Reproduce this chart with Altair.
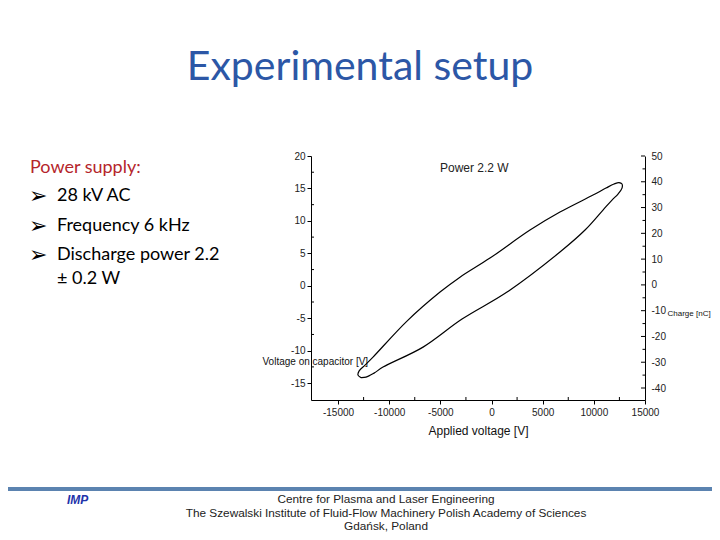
import altair as alt
import pandas as pd

# ---- data (closed loop, traced point by point) ----
voltage = [-12753, -13046, -12948, -12362, -11580, -8260, -5030, -3080, -150, 3760,
           6690, 9920, 11189, 11971, 12460, 12753, 12753, 12362, 11775, 10896,
           9140, 6690, 1520, -2880, -6690, -10603, -11482, -12264, -12753]
signal = [-14.15, -13.77, -13.15, -12.23, -10.99, -5.44, -0.97, 1.33, 4.27, 8.59,
          11.36, 13.98, 15.06, 15.68, 15.91, 15.68, 15.06, 14.14, 13.21, 11.67,
          8.59, 5.20, -0.97, -5.13, -9.45, -12.53, -13.46, -14.08, -14.15]

x_ticks = [-15000, -10000, -5000, 0, 5000, 10000, 15000]
x_minor = [-12500, -7500, -2500, 2500, 7500, 12500]
left_ticks = [-15, -10, -5, 0, 5, 10, 15, 20]
left_minor = [-12.5, -7.5, -2.5, 2.5, 7.5, 12.5, 17.5]
right_ticks = [-40, -30, -20, -10, 0, 10, 20, 30, 40, 50]
right_minor = [-35, -25, -15, -5, 5, 15, 25, 35, 45]

title_text = "Experimental setup"
supply_head = "Power supply:"
bullets = ["28 kV AC", "Frequency 6 kHz", "Discharge power 2.2"]
bullet_cont = "± 0.2 W"
chart_label = "Power 2.2 W"
x_title = "Applied voltage [V]"
left_title = "Voltage on capacitor [V]"
right_title = "Charge [nC]"
footer = ["Centre for Plasma and Laser Engineering",
          "The Szewalski Institute of Fluid-Flow Machinery Polish Academy of  Sciences",
          "Gdańsk, Poland"]

W, H = 334, 244
XDOM = [-17640, 15000]
LDOM = [-17.6, 20]
RDOM = [-44.65, 50]

df = pd.DataFrame({"v": voltage, "u": signal, "i": list(range(len(voltage)))})

xscale = alt.Scale(domain=XDOM, nice=False, zero=False)
lscale = alt.Scale(domain=LDOM, nice=False, zero=False)
rscale = alt.Scale(domain=RDOM, nice=False, zero=False)

axis_common = dict(grid=False, domainColor="black", tickColor="black", labelColor="#222",
                   labelFont="Liberation Sans", labelFontSize=10, titleFont="Liberation Sans",
                   titleFontWeight="normal", titleColor="#111", labelFlush=False)

x_axis = alt.Axis(values=x_ticks, title=x_title, titleFontSize=12, tickSize=4,
                  labelPadding=3, titlePadding=8, labelExpr="toString(datum.value)",
                  **axis_common)

curve = alt.Chart(df).mark_line(color="black", strokeWidth=1.2, interpolate="catmull-rom").encode(
    x=alt.X("v:Q", scale=xscale, axis=x_axis),
    y=alt.Y("u:Q", scale=lscale,
            axis=alt.Axis(values=left_ticks, title=left_title, titleAngle=0, titleX=-49, titleY=205,
                          titleAlign="left", titleBaseline="middle", titleFontSize=10,
                          tickSize=4, labelPadding=2, labelExpr="toString(datum.value)",
                          **axis_common)),
    order="i:Q",
)

lminor = alt.Chart(pd.DataFrame({"u": left_minor})).mark_rule(color="black").encode(
    y=alt.Y("u:Q", scale=lscale, axis=None), x=alt.value(0), x2=alt.value(3))

xminor = alt.Chart(pd.DataFrame({"v": x_minor})).mark_rule(color="black").encode(
    x=alt.X("v:Q", scale=xscale, axis=x_axis), y=alt.value(H), y2=alt.value(H - 3))

rmajor = alt.Chart(pd.DataFrame({"r": right_ticks})).mark_rule(color="black").encode(
    y=alt.Y("r:Q", scale=rscale,
            axis=alt.Axis(orient="right", values=right_ticks, tickSize=0, labelPadding=6,
                          title=right_title, titleAngle=0, titleX=22, titleY=157,
                          titleAlign="left", titleBaseline="middle", titleFontSize=8,
                          labelExpr="toString(datum.value)", **axis_common)),
    x=alt.value(W - 4), x2=alt.value(W))

rminor = alt.Chart(pd.DataFrame({"r": right_minor})).mark_rule(color="black").encode(
    y=alt.Y("r:Q", scale=rscale, axis=None), x=alt.value(W - 2.5), x2=alt.value(W))

one = alt.Data(values=[{}])


def txt(s, x, y, size, color="black", font="Lato", align="left", **kw):
    return alt.Chart(one).mark_text(text=s, fontSize=size, color=color, font=font, align=align,
                                    baseline="middle", **kw).encode(x=alt.value(x), y=alt.value(y))


layers = [curve, lminor, xminor, rmajor, rminor]
layers.append(txt(title_text, 49, -88, 41, color="#2C57A6", align="center"))
layers.append(txt(supply_head, -281, 12, 18, color="#B5252B"))
for b, yy in zip(bullets, [40, 70, 99]):
    layers.append(txt("➢", -282, yy, 22, font="DejaVu Sans"))
    layers.append(txt(b, -254, yy, 18))
layers.append(txt(bullet_cont, -254, 123, 18))
layers.append(txt(chart_label, 129, 12, 12, font="Liberation Sans", color="#222"))
for s, yy in zip(footer, [343, 357, 370]):
    layers.append(txt(s, 75, yy, 11.8, font="Liberation Sans", color="#222", align="center"))
layers.append(txt("IMP", -244, 344, 12, font="Liberation Sans", color="#2233AA",
                  fontWeight="bold", fontStyle="italic"))
layers.append(alt.Chart(one).mark_rule(color="#5B83B0", strokeWidth=4).encode(
    x=alt.value(-311), x2=alt.value(409), y=alt.value(333)))

chart = alt.layer(*layers).resolve_scale(y="independent").properties(
    width=W, height=H,
    autosize=alt.AutoSizeParams(type="none"),
    padding={"left": 303, "top": 148, "right": 67, "bottom": 132},
    background="white",
).configure_view(stroke=None)

chart.save("out.html", embed_options={"renderer": "svg", "actions": False})
